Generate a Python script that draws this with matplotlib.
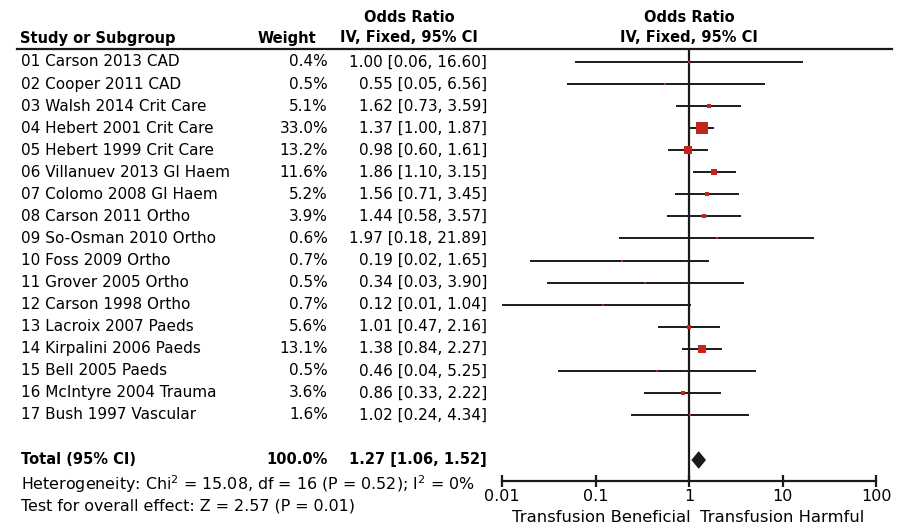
import numpy as np
import matplotlib
matplotlib.use('Agg')
import matplotlib.pyplot as plt

# study data
studies = ['01 Carson 2013 CAD', '02 Cooper 2011 CAD', '03 Walsh 2014 Crit Care',
           '04 Hebert 2001 Crit Care', '05 Hebert 1999 Crit Care',
           '06 Villanuev 2013 GI Haem', '07 Colomo 2008 GI Haem',
           '08 Carson 2011 Ortho', '09 So-Osman 2010 Ortho', '10 Foss 2009 Ortho',
           '11 Grover 2005 Ortho', '12 Carson 1998 Ortho', '13 Lacroix 2007 Paeds',
           '14 Kirpalini 2006 Paeds', '15 Bell 2005 Paeds',
           '16 McIntyre 2004 Trauma', '17 Bush 1997 Vascular']
weights = [0.4, 0.5, 5.1, 33.0, 13.2, 11.6, 5.2, 3.9, 0.6, 0.7, 0.5, 0.7,
           5.6, 13.1, 0.5, 3.6, 1.6]
odds = [1.00, 0.55, 1.62, 1.37, 0.98, 1.86, 1.56, 1.44, 1.97, 0.19, 0.34,
        0.12, 1.01, 1.38, 0.46, 0.86, 1.02]
ci_low = [0.06, 0.05, 0.73, 1.00, 0.60, 1.10, 0.71, 0.58, 0.18, 0.02, 0.03,
          0.01, 0.47, 0.84, 0.04, 0.33, 0.24]
ci_high = [16.60, 6.56, 3.59, 1.87, 1.61, 3.15, 3.45, 3.57, 21.89, 1.65, 3.90,
           1.04, 2.16, 2.27, 5.25, 2.22, 4.34]

total_weight = 100.0
total_or, total_low, total_high = 1.27, 1.06, 1.52
heterogeneity = 'Heterogeneity: Chi$^2$ = 15.08, df = 16 (P = 0.52); I$^2$ = 0%'
overall = 'Test for overall effect: Z = 2.57 (P = 0.01)'
ticks = [0.01, 0.1, 1, 10, 100]
tick_labels = ['0.01', '0.1', '1', '10', '100']

plt.rcParams['font.family'] = ['DejaVu Sans']
plt.rcParams['mathtext.fontset'] = 'dejavusans'
FS = 11        # row text
FSB = 10.5     # bold headers / total
FSF = 11.4     # footnotes
RED = '#c3261c'
INK = '#1a1a1a'

W, H = 897, 526
ROW0, DROW = 62, 22.06


def row(px):
    '''pixel y -> row units'''
    return (px - ROW0) / DROW + 1


fig = plt.figure(figsize=(W / 100, H / 100), dpi=100)

# text layer over the whole figure, x in pixels, y in rows
tax = fig.add_axes([0, 0, 1, 1])
tax.set_xlim(0, W)
tax.set_ylim(row(H), row(0))
tax.axis('off')

# forest panel
ax_left, ax_right, ax_top, ax_bot = 502, 876, 49, 481
ax = fig.add_axes([ax_left / W, (H - ax_bot) / H,
                   (ax_right - ax_left) / W, (ax_bot - ax_top) / H])
ax.set_xscale('log')
ax.set_xlim(0.01, 100)
ax.set_ylim(row(ax_bot), row(ax_top))
ax.patch.set_alpha(0)
for s in ['top', 'left', 'right']:
    ax.spines[s].set_visible(False)
ax.spines['bottom'].set_linewidth(1.6)
ax.spines['bottom'].set_color(INK)
ax.set_yticks([])
ax.set_xticks(ticks)
ax.set_xticklabels(tick_labels)
ax.minorticks_off()
ax.tick_params(axis='x', direction='inout', length=9, width=1.6,
               color=INK, labelsize=11.5, pad=1)

# headers
tax.plot([17, 892], [row(49), row(49)], color=INK, lw=1.6)
tax.text(20, row(38), 'Study or Subgroup', fontsize=FSB, fontweight='bold',
         ha='left', va='center')
tax.text(316, row(38), 'Weight', fontsize=FSB, fontweight='bold',
         ha='right', va='center')
for cx in (409, 689):
    tax.text(cx, row(17), 'Odds Ratio', fontsize=FSB, fontweight='bold',
             ha='center', va='center')
    tax.text(cx, row(38), 'IV, Fixed, 95% CI', fontsize=FSB, fontweight='bold',
             ha='center', va='center')

# study rows
ys = np.arange(1, len(studies) + 1)
for y, name, w, o, lo, hi in zip(ys, studies, weights, odds, ci_low, ci_high):
    tax.text(21, y, name, fontsize=FS, ha='left', va='center')
    tax.text(328, y, f'{w:.1f}%', fontsize=FS, ha='right', va='center')
    tax.text(487, y, f'{o:.2f} [{lo:.2f}, {hi:.2f}]', fontsize=FS,
             ha='right', va='center')
    ax.plot([lo, hi], [y, y], color=INK, lw=1.4, solid_capstyle='butt',
            zorder=2)
    ax.plot([o], [y], marker='s', color=RED, ms=max(1.6, 1.4 * np.sqrt(w)),
            mew=0, zorder=3)

# line of no effect
ax.plot([1, 1], [row(ax_top), row(ax_bot)], color=INK, lw=1.6, zorder=1)

# total row
ty = row(460)
tax.text(21, ty, 'Total (95% CI)', fontsize=FSB, fontweight='bold',
         ha='left', va='center')
tax.text(328, ty, f'{total_weight:.1f}%', fontsize=FSB, fontweight='bold',
         ha='right', va='center')
tax.text(487, ty, f'{total_or:.2f} [{total_low:.2f}, {total_high:.2f}]',
         fontsize=FSB, fontweight='bold', ha='right', va='center')
ax.fill([total_low, total_or, total_high, total_or],
        [ty, ty - 0.4, ty, ty + 0.4], color=INK, lw=0, zorder=3)

tax.text(21, row(484), heterogeneity, fontsize=FSF, ha='left', va='center')
tax.text(21, row(506), overall, fontsize=FSF, ha='left', va='center')

tax.text(691, row(518), 'Transfusion Beneficial', fontsize=11.8, ha='right',
         va='center')
tax.text(700, row(518), 'Transfusion Harmful', fontsize=11.8, ha='left',
         va='center')

fig.savefig('out.png', dpi=100)
